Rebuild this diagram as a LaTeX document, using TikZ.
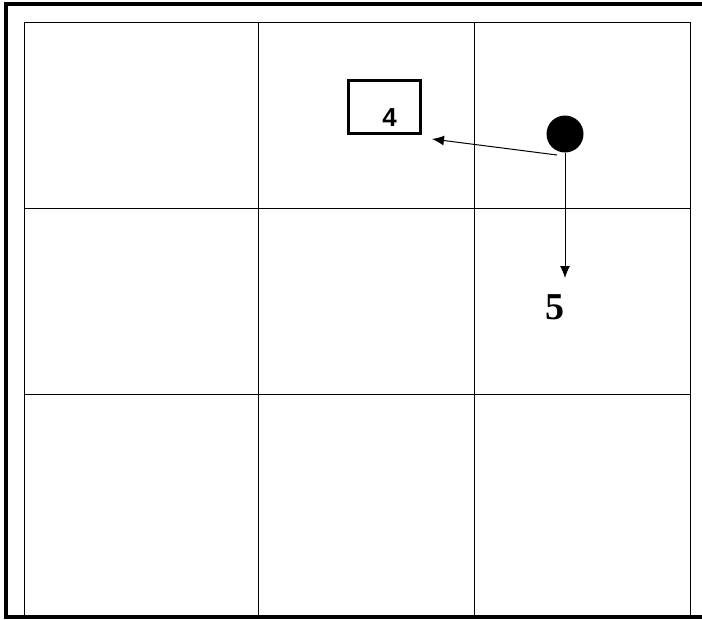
\documentclass[tikz,border=0pt]{standalone}
\usepackage{fontspec}
\usetikzlibrary{arrows.meta}
\setmainfont{Liberation Serif}
\newfontfamily\sansf{Liberation Sans}
\begin{document}
\begin{tikzpicture}[x=1pt,y=-1pt,
  grid/.style={line width=1pt},
  frame/.style={line width=4pt},
  arr/.style={line width=1pt,-{Latex[length=12pt,width=10pt]}}]
\useasboundingbox (0,0) rectangle (702,619);
% grid
\foreach \x in {24,258,474,690} \draw[grid] (\x,22) -- (\x,616);
\foreach \y in {22,208,394} \draw[grid] (24,\y) -- (690,\y);
% thick frame
\draw[frame] (702,4) -- (6,4) -- (6,616.5) -- (702,616.5);
% box 4
\node[draw,line width=3pt,minimum width=72pt,minimum height=53pt,inner sep=0pt] (b4) at (384.5,107) {};
\node[font=\sansf\bfseries\fontsize{26}{26}\selectfont,inner sep=0pt,anchor=base] (l4) at (389.5,126) {4};
% circle
\node[circle,fill=black,minimum size=37pt,inner sep=0pt] (c) at (565,134) {};
\coordinate (s1) at (557,155);
\coordinate (t1) at (432,139);
\draw[arr] (s1) -- (t1);
\coordinate (t2) at (565,278);
\draw[arr] (c.south) -- (t2);
\node[font=\bfseries\fontsize{38}{38}\selectfont,inner sep=0pt,anchor=base] (n5) at (555,319) {5};
\end{tikzpicture}
\end{document}
